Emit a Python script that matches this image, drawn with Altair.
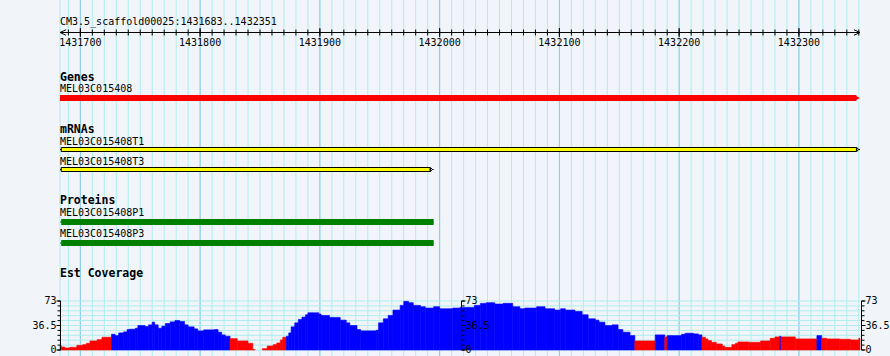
import altair as alt
import pandas as pd

# ---------------- data ----------------
REGION_START = 1431683
REGION_END = 1432351
TITLE = "CM3.5_scaffold00025:1431683..1432351"

MAJOR_TICKS = [1431700, 1431800, 1431900, 1432000, 1432100, 1432200, 1432300]
MAJOR_LABELS = ["1431700", "1431800", "1431900", "1432000", "1432100", "1432200", "1432300"]
MINOR_STEP = 10

TRACK_TITLES = ["Genes", "mRNAs", "Proteins", "Est Coverage"]

GENE_NAMES = ["MEL03C015408"]
GENE_START = [1431683]
GENE_END = [1432351]

MRNA_NAMES = ["MEL03C015408T1", "MEL03C015408T3"]
MRNA_START = [1431684, 1431684]
MRNA_END = [1432351, 1431995]

PROT_NAMES = ["MEL03C015408P1", "MEL03C015408P3"]
PROT_START = [1431684, 1431684]
PROT_END = [1431995, 1431995]

COV_MAX = 73
COV_LABEL_VALUES = [0, 36.5, 73]
COV_LABELS = ["0", "36.5", "73"]
PIVOT = 20

# coverage: segment start (bp offset from REGION_START) and depth
COV_OFFSET = [0, 1, 4, 8, 14, 19, 22, 25, 31, 35,
              43, 46, 49, 53, 56, 58, 63, 65, 71, 74,
              77, 79, 82, 85, 88, 92, 96, 100, 104, 107,
              112, 115, 120, 129, 132, 135, 138, 142, 148, 157,
              161, 163, 169, 173, 178, 181, 184, 186, 189, 191,
              193, 196, 199, 202, 205, 207, 216, 218, 225, 234,
              239, 242, 248, 251, 264, 266, 270, 274, 278, 284,
              287, 291, 295, 301, 305, 312, 317, 328, 334, 346,
              351, 356, 363, 370, 378, 384, 388, 398, 405, 413,
              418, 422, 430, 436, 441, 447, 450, 455, 461, 466,
              470, 476, 480, 497, 505, 507, 519, 522, 529, 533,
              536, 539, 541, 544, 548, 553, 555, 561, 564, 566,
              575, 585, 593, 597, 601, 602, 614, 632, 636, 640,
              651, 660, 667]
COV_VALUE = [7, 4.5, 3, 4, 7, 8, 10, 13.5, 15.5, 19,
             23.5, 21.5, 25.5, 27, 30.5, 31, 32.5, 36.5, 35, 37.5,
             41.5, 37.5, 32.5, 35.5, 39.5, 42, 44, 42.5, 37.5, 34.5,
             31.5, 28.5, 30, 30.5, 26.5, 22.5, 20.5, 17, 13.5, 10,
             0.5, 0, 2, 6, 8, 10.5, 15, 19, 20.5, 25.5,
             34.5, 40.5, 45.5, 49, 52.5, 55.5, 53.5, 51.5, 48.5, 44.5,
             40.5, 36.5, 30.5, 28.5, 29.5, 40.5, 46.5, 51.5, 59.5, 66.5,
             72.5, 70.5, 66.5, 64.5, 62.5, 64.5, 61.5, 62.5, 63.5, 66.5,
             69.5, 70.5, 68.5, 69.5, 64.5, 61.5, 62.5, 64.5, 61.5, 59.5,
             61.5, 59.5, 57.5, 52.5, 46.5, 44.5, 41.5, 36.5, 37.5, 30.5,
             26.5, 21.5, 13.5, 22.5, 19.5, 21.5, 23.5, 25, 24, 22.5,
             19, 16.5, 14, 11.5, 9, 6, 4, 8, 10, 12,
             11.5, 13.5, 17.5, 19.5, 20.5, 19.5, 16.5, 21.5, 17.5, 16.5,
             16, 15, 17.5]

# ---------------- style ----------------
BG = "#F1F5FA"
GRID_MINOR = "#AFEEEE"
GRID_MAJOR = "#8CC8EA"
MONO = "DejaVu Sans Mono"
W, H = 890, 356
PX_LEFT, PX_RIGHT = 60, 860

xs = alt.Scale(domain=[REGION_START, REGION_END], range=[PX_LEFT, PX_RIGHT], nice=False, zero=False)
ys = alt.Scale(domain=[0, COV_MAX], range=[350, 301], nice=False, zero=False)


def X(field):
    return alt.X(field, type="quantitative", scale=xs, axis=None)


def Y(field):
    return alt.Y(field, type="quantitative", scale=ys, axis=None)


layers = []

# vertical grid
minor_pos = [REGION_START] + list(range(REGION_START - REGION_START % MINOR_STEP + MINOR_STEP, REGION_END + 1, MINOR_STEP))
minor_df = pd.DataFrame({"pos": minor_pos})
major_df = pd.DataFrame({"pos": MAJOR_TICKS, "label": MAJOR_LABELS})
layers.append(alt.Chart(minor_df).mark_rule(color=GRID_MINOR, strokeWidth=1).encode(
    x=X("pos"), y=alt.value(0), y2=alt.value(H)))
layers.append(alt.Chart(major_df).mark_rule(color=GRID_MAJOR, strokeWidth=1).encode(
    x=X("pos"), y=alt.value(0), y2=alt.value(H)))

# horizontal coverage grid
hgrid_df = pd.DataFrame({"v": [COV_MAX * i / 10 for i in range(11)]})
layers.append(alt.Chart(hgrid_df).mark_rule(color=GRID_MINOR, strokeWidth=1).encode(
    y=Y("v"), x=alt.value(PX_LEFT), x2=alt.value(PX_RIGHT)))

# coverage histogram
cov_start = [REGION_START + o for o in COV_OFFSET]
cov_end = cov_start[1:] + [REGION_END]
cov_df = pd.DataFrame({"start": cov_start, "end": cov_end, "v": COV_VALUE})
col = alt.when(alt.datum.v > PIVOT).then(alt.value("#0000FF")).otherwise(alt.value("#FF0000"))
layers.append(alt.Chart(cov_df).transform_filter(alt.datum.v > 0).mark_rect(strokeWidth=0.6).encode(
    x=X("start"), x2="end", y=Y("v"), y2=alt.datum(0), fill=col, stroke=col))

# title
title_df = pd.DataFrame({"pos": [REGION_START], "t": [TITLE]})
layers.append(alt.Chart(title_df).mark_text(align="left", baseline="alphabetic", font=MONO, fontSize=10,
                                            color="black").encode(
    x=X("pos"), y=alt.value(24.5), text="t:N"))

# ruler
ends_df = pd.DataFrame({"s": [REGION_START], "e": [REGION_END]})
layers.append(alt.Chart(ends_df).mark_rule(color="black", strokeWidth=1).encode(
    x=X("s"), x2="e", y=alt.value(32.5)))
layers.append(alt.Chart(ends_df).mark_point(shape="M2.2,-1L0,0L2.2,1", filled=False, stroke="black",
                                            strokeWidth=1, size=30, opacity=1).encode(
    x=X("s"), y=alt.value(32.5)))
layers.append(alt.Chart(ends_df).mark_point(shape="M-2.2,-1L0,0L-2.2,1", filled=False, stroke="black",
                                            strokeWidth=1, size=30, opacity=1).encode(
    x=X("e"), y=alt.value(32.5)))
rticks_df = pd.DataFrame({"pos": minor_pos[1:]})
layers.append(alt.Chart(rticks_df).mark_rule(color="black", strokeWidth=1).encode(
    x=X("pos"), y=alt.value(29.5), y2=alt.value(35.5)))
layers.append(alt.Chart(major_df).mark_rule(color="black", strokeWidth=1).encode(
    x=X("pos"), y=alt.value(28), y2=alt.value(37)))
layers.append(alt.Chart(major_df).mark_text(align="center", baseline="alphabetic", font=MONO, fontSize=10,
                                            color="black").encode(
    x=X("pos"), y=alt.value(46), text="label:N"))

# track titles
for name, yb in zip(TRACK_TITLES, [80.5, 132.5, 203.5, 276.5]):
    d = pd.DataFrame({"pos": [REGION_START], "t": [name]})
    layers.append(alt.Chart(d).mark_text(align="left", baseline="alphabetic", font=MONO, fontSize=11.5,
                                         fontWeight="bold", color="black").encode(
        x=X("pos"), y=alt.value(yb), text="t:N"))


def label_layer(name, start, yb):
    d = pd.DataFrame({"pos": [start], "t": [name]})
    return alt.Chart(d).mark_text(align="left", baseline="alphabetic", font=MONO, fontSize=10,
                                  color="black").encode(x=X("pos"), y=alt.value(yb), text="t:N")


# genes
for name, s, e, yb, y0 in zip(GENE_NAMES, GENE_START, GENE_END, [92], [95]):
    layers.append(label_layer(name, REGION_START, yb))
    d = pd.DataFrame({"s": [s], "e": [e - 3], "tip": [e]})
    layers.append(alt.Chart(d).mark_rect(color="#FF0000").encode(
        x=X("s"), x2="e", y=alt.value(y0), y2=alt.value(y0 + 6)))
    layers.append(alt.Chart(d).mark_point(shape="M-2,-1L0,0L-2,1Z", filled=True, color="#FF0000",
                                          size=36, opacity=1).encode(
        x=X("tip"), y=alt.value(y0 + 3)))

# mRNAs
for name, s, e, yb, y0 in zip(MRNA_NAMES, MRNA_START, MRNA_END, [144.5, 164.5], [147.5, 167.5]):
    layers.append(label_layer(name, REGION_START, yb))
    d = pd.DataFrame({"s": [s], "e": [e - 3], "tip": [e - 1], "line0": [REGION_START], "line1": [e]})
    layers.append(alt.Chart(d).mark_rule(color="black", strokeWidth=1).encode(
        x=X("line0"), x2="line1", y=alt.value(y0 + 2)))
    layers.append(alt.Chart(d).mark_rect(fill="#FFFF00", stroke="black", strokeWidth=1).encode(
        x=X("s"), x2="e", y=alt.value(y0), y2=alt.value(y0 + 4)))
    layers.append(alt.Chart(d).mark_point(shape="M-1,-1L0,0L-1,1Z", filled=True, fill="#FFFF00",
                                          stroke="black", strokeWidth=1, size=16, opacity=1).encode(
        x=X("tip"), y=alt.value(y0 + 2)))

# proteins
for name, s, e, yb, y0 in zip(PROT_NAMES, PROT_START, PROT_END, [216, 237], [219, 240]):
    layers.append(label_layer(name, REGION_START, yb))
    d = pd.DataFrame({"s": [s], "e": [e], "line0": [REGION_START]})
    layers.append(alt.Chart(d).mark_rule(color="#008000", strokeWidth=1).encode(
        x=X("line0"), x2="e", y=alt.value(y0 + 3)))
    layers.append(alt.Chart(d).mark_rect(color="#008000").encode(
        x=X("s"), x2="e", y=alt.value(y0), y2=alt.value(y0 + 6)))

# coverage axes (left, middle, right)
tick_df = pd.DataFrame({"v": [COV_MAX * i / 10 for i in range(11)]})
lab_df = pd.DataFrame({"v": COV_LABEL_VALUES, "t": COV_LABELS})
one_df = pd.DataFrame({"a": [0], "b": [COV_MAX]})
for ax, direction in [(60.5, -1), (461.5, 1), (861.5, 1)]:
    layers.append(alt.Chart(one_df).mark_rule(color="black", strokeWidth=1).encode(
        x=alt.value(ax), y=Y("a"), y2="b"))
    layers.append(alt.Chart(tick_df).mark_rule(color="black", strokeWidth=1).encode(
        x=alt.value(ax), x2=alt.value(ax + 3 * direction), y=Y("v")))
    layers.append(alt.Chart(lab_df).mark_rule(color="black", strokeWidth=1).encode(
        x=alt.value(ax), x2=alt.value(ax + 4 * direction), y=Y("v")))
    layers.append(alt.Chart(lab_df).mark_text(align="right" if direction < 0 else "left", baseline="middle",
                                              font=MONO, fontSize=10, color="black").encode(
        x=alt.value(ax + 4 * direction), y=Y("v"), text="t:N"))

chart = alt.layer(*layers).properties(
    width=W, height=H, autosize=alt.AutoSizeParams(type="none"), padding=0, background=BG
).configure_view(stroke=None)

chart.save("out.html", embed_options={"renderer": "svg", "actions": False})
